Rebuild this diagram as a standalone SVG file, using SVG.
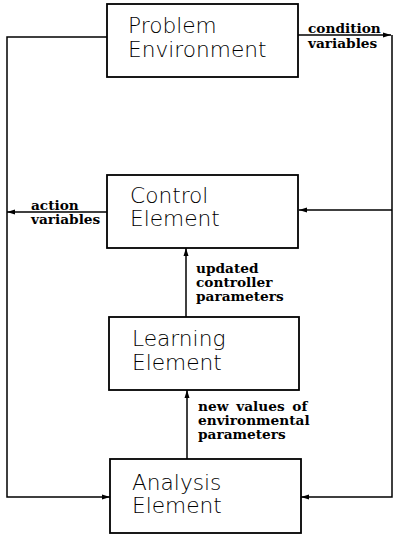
<svg xmlns="http://www.w3.org/2000/svg" width="400" height="538" viewBox="0 0 400 538">
<style>
.box{fill:#fff;stroke:#000;stroke-width:1.8}
.ln{fill:none;stroke:#000;stroke-width:1.5}
.nt{font-family:"DejaVu Sans","Liberation Sans",sans-serif;font-size:21.7px;font-weight:200;fill:#000}
.lb{font-family:"DejaVu Serif","Liberation Serif",serif;font-size:13.7px;font-weight:bold;fill:#000}
</style>
<defs>
<marker id="ah" markerWidth="8" markerHeight="6" refX="8" refY="3" orient="auto" markerUnits="userSpaceOnUse">
<path d="M0,0.5 L8,3 L0,5.5 Z" fill="#000"/>
</marker>
</defs>
<rect width="400" height="538" fill="#fff"/>
<g id="connectors">
<path class="ln" d="M107,37 H7 V497 H110" marker-end="url(#ah)"/>
<path class="ln" d="M298,35 H391" marker-end="url(#ah)"/>
<path class="ln" d="M392,35 V497 H301" marker-end="url(#ah)"/>
<path class="ln" d="M392,210 H299" marker-end="url(#ah)"/>
<path class="ln" d="M107,212 H7" marker-end="url(#ah)"/>
<path class="ln" d="M186,317 V248" marker-end="url(#ah)"/>
<path class="ln" d="M187,459 V390" marker-end="url(#ah)"/>
<text class="lb" x="308" y="33">condition</text>
<text class="lb" x="308" y="48">variables</text>
<text class="lb" x="31" y="210">action</text>
<text class="lb" x="31" y="224">variables</text>
<text class="lb" x="196" y="273">updated</text>
<text class="lb" x="196" y="287">controller</text>
<text class="lb" x="196" y="301">parameters</text>
<text class="lb" x="198" y="411" word-spacing="3">new values of</text>
<text class="lb" x="198" y="425">environmental</text>
<text class="lb" x="198" y="439">parameters</text>
</g>
<g id="problem-environment">
<rect class="box" x="107" y="4" width="191" height="73"/>
<text class="nt" x="128" y="33">Problem</text>
<text class="nt" x="128" y="57">Environment</text>
</g>
<g id="control-element">
<rect class="box" x="107" y="175" width="191" height="73"/>
<text class="nt" x="130" y="203">Control</text>
<text class="nt" x="130" y="226">Element</text>
</g>
<g id="learning-element">
<rect class="box" x="109" y="317" width="190" height="73"/>
<text class="nt" x="132" y="346">Learning</text>
<text class="nt" x="132" y="370">Element</text>
</g>
<g id="analysis-element">
<rect class="box" x="110" y="459" width="191" height="74"/>
<text class="nt" x="132" y="490">Analysis</text>
<text class="nt" x="132" y="513">Element</text>
</g>
</svg>
